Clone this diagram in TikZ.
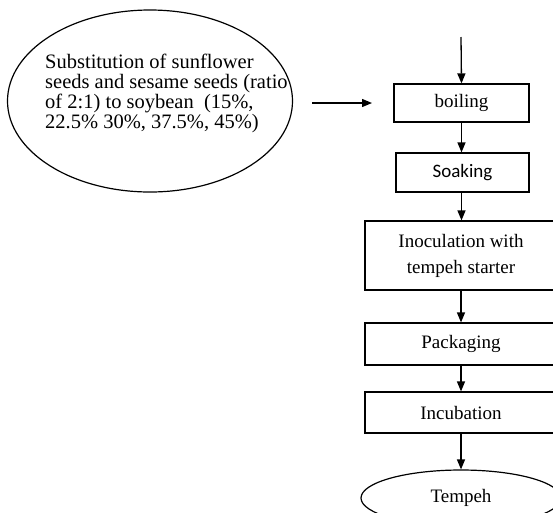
\documentclass[tikz,border=0pt]{standalone}
\usepackage{fontspec}
\setmainfont{Liberation Serif}
\newfontfamily\calfont{Carlito}
\usetikzlibrary{arrows.meta,shapes.geometric}
\begin{document}
\begin{tikzpicture}[x=1pt,y=-1pt,
  box/.style={draw,line width=1.2pt,inner sep=0pt,font=\fontsize{19}{26}\selectfont},
  arr/.style={line width=1.3pt,-{Triangle[length=10pt,width=8pt]}},
  every node/.style={text=black}]
\useasboundingbox (0,0) rectangle (553,512);
\clip (0,0) rectangle (553,512);
\node[draw,ellipse,line width=1.2pt,minimum width=285pt,minimum height=182pt,inner sep=0pt] (sub) at (150,101) {};
\node[anchor=west,align=left,inner sep=0pt,font=\fontsize{20.5}{20}\selectfont] (subtxt) at (45,93)
 {Substitution of sunflower\\seeds and sesame seeds (ratio\\of 2:1) to soybean\ \ (15\%,\\22.5\% 30\%, 37.5\%, 45\%)};
\coordinate (top) at (461,37);
\node[box,minimum width=135pt,minimum height=38pt] (boil) at (461.5,103) {boiling};
\coordinate (aS) at (312,103);
\coordinate (aE) at (372,103);
\node[box,minimum width=133pt,minimum height=39pt,font=\calfont\fontsize{19}{20}\selectfont] (soak) at (462.5,172.5) {Soaking};
\node[box,minimum width=192pt,minimum height=69pt,align=center] (inoc) at (461,255.5) {Inoculation with\\tempeh starter};
\node[box,minimum width=192pt,minimum height=42pt] (pack) at (461,344) {Packaging};
\node[box,minimum width=192pt,minimum height=41pt] (incu) at (461,412.5) {Incubation};
\node[draw,ellipse,line width=1.2pt,minimum width=200pt,minimum height=56pt,inner sep=0pt,font=\fontsize{19}{20}\selectfont] (temp) at (461,498) {};
\node[font=\fontsize{19}{20}\selectfont] at (temp.center) {Tempeh};
\draw[arr] (top) -- (boil.north);
\draw[arr] (aS) -- (aE);
\draw[arr] (boil.south) -- (soak.north -| boil.south);
\draw[arr] (soak.south -| boil.south) -- (inoc.north -| boil.south);
\draw[arr] (inoc.south) -- (pack.north);
\draw[arr] (pack.south) -- (incu.north);
\draw[arr] (incu.south) -- (temp.north);
\end{tikzpicture}
\end{document}
